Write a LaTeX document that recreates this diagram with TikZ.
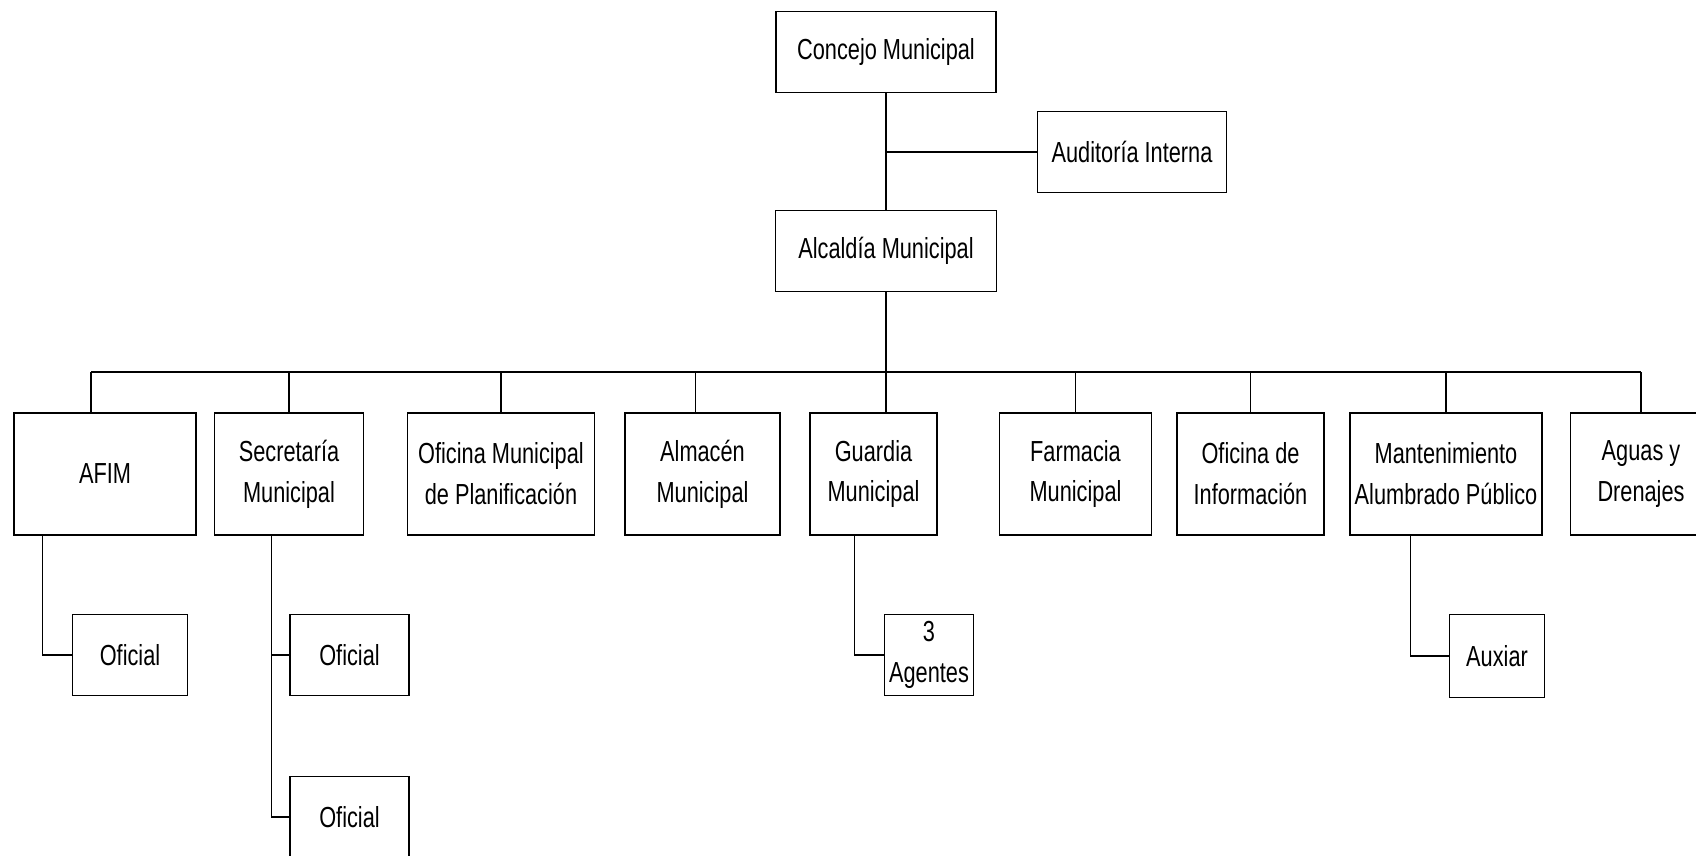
\documentclass[tikz,border=0pt]{standalone}
\usepackage{fontspec}
\setmainfont{Liberation Sans}[FakeStretch=0.75]
\usepackage{tikz}
\usetikzlibrary{calc}

\begin{document}
\begin{tikzpicture}[x=0.5pt, y=-0.5pt, line width=0.6pt,
		unidad/.style={draw, line width=0.7pt, align=center, inner sep=0pt, font=\fontsize{14.5}{20.4}\selectfont},
		alta/.style={unidad, minimum height=61pt},
		baja/.style={unidad, minimum height=40.5pt}]
	\useasboundingbox (0,0) rectangle (1696,856);
	\clip (0,0) rectangle (1696,856);
	% nivel superior
	\node[baja, minimum width=110pt] (concejo) at (886,52) {Concejo Municipal};
	\node[baja, minimum width=94.5pt] (auditoria) at (1132,152) {Auditoría Interna};
	\node[baja, minimum width=110.5pt] (alcaldia) at (886,251) {Alcaldía Municipal};
	\draw (concejo.south) -- (alcaldia.north);
	\draw (auditoria.west) -- (auditoria.west -| concejo.south);
	% dependencias
	\node[alta, minimum width=91pt] (afim) at (105,474) {AFIM};
	\node[alta, minimum width=74.5pt] (secretaria) at (289,474) {Secretaría\\Municipal};
	\node[alta, minimum width=93.5pt] (planificacion) at (501,474) {Oficina Municipal\\de Planificación};
	\node[alta, minimum width=77.5pt] (almacen) at (702.5,474) {Almacén\\Municipal};
	\node[alta, minimum width=63.5pt] (guardia) at (873.5,474) {Guardia\\Municipal};
	\node[alta, minimum width=76pt] (farmacia) at (1075.5,474) {Farmacia\\Municipal};
	\node[alta, minimum width=73.5pt] (informacion) at (1250.5,474) {Oficina de\\Información};
	\node[alta, minimum width=96pt] (mantenimiento) at (1446,474) {Mantenimiento\\Alumbrado Público};
	\node[alta, minimum width=70.5pt] (aguas) at (1641,474) {Aguas y\\Drenajes};
	\coordinate (busl) at (91,372);
	\coordinate (busr) at (1641,372);
	\draw (busl) -- (busr);
	\draw (busl) -- (busl |- afim.north);
	\draw (busr) -- (busr |- aguas.north);
	\draw (alcaldia.south) -- (alcaldia.south |- guardia.north);
	\draw ([xshift=-3.5pt]almacen.north) -- ([xshift=-3.5pt]almacen.north |- busl);
	\foreach \u in {secretaria, planificacion, farmacia, informacion, mantenimiento}
		\draw (\u.north) -- (\u.north |- busl);
	% personal
	\node[baja, minimum width=57.5pt] (oficiala) at (130,655) {Oficial};
	\node[baja, minimum width=59.5pt] (oficialb) at (349.5,655) {Oficial};
	\node[baja, minimum width=59.5pt] (oficialc) at (349.5,817) {Oficial};
	\node[baja, minimum width=44.5pt] (agentes) at (929,655) {3\\Agentes};
	\node[baja, minimum width=47.5pt, minimum height=41.5pt] (auxiar) at (1497,656) {Auxiar};
	\coordinate (ka) at ($(afim.south west)+(29,0)$);
	\coordinate (ks) at ($(secretaria.south west)+(58,0)$);
	\coordinate (kg) at ($(guardia.south west)+(45,0)$);
	\coordinate (km) at ($(mantenimiento.south west)+(61,0)$);
	\draw (ka) |- (oficiala.west);
	\draw (ks) |- (oficialc.west);
	\draw (oficialb.west) -- (oficialb.west -| ks);
	\draw (kg) |- (agentes.west);
	\draw (km) |- (auxiar.west);
\end{tikzpicture}
\end{document}
